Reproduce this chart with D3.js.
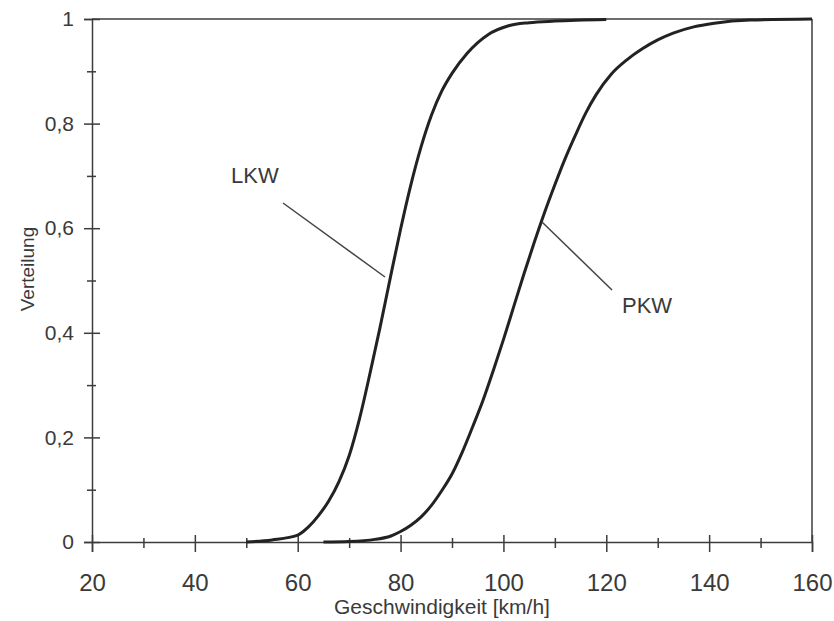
<!DOCTYPE html>
<html><head><meta charset="utf-8">
<script src="https://cdn.jsdelivr.net/npm/d3@7"></script>
<style>body{margin:0;background:#fff}svg{display:block}text{font-family:"Liberation Sans",Arial,sans-serif;fill:#3a3a3a}</style>
</head><body><svg id="c" width="834" height="621"></svg>
<script>
const lkwSpeed = [50,55,60,62,64,66,68,70,72,74,76,78,80,82,84,86,88,90,93,97,101,105,110,120];
const lkwShare = [0,0.004,0.013,0.028,0.05,0.078,0.115,0.165,0.235,0.32,0.41,0.505,0.598,0.683,0.756,0.816,0.862,0.896,0.935,0.97,0.987,0.993,0.996,0.999];
const pkwSpeed = [65,70,75,78,80,82,84,86,88,90,92,94,96,98,100,102,104,106,108,110,112,114,116,118,121,124,127,130,133,137,141,148,160];
const pkwShare = [0,0.001,0.005,0.011,0.02,0.032,0.048,0.07,0.098,0.13,0.172,0.22,0.27,0.327,0.387,0.45,0.513,0.573,0.63,0.683,0.733,0.778,0.82,0.855,0.895,0.922,0.943,0.96,0.973,0.985,0.992,0.998,1];
const xTicks = [20,40,60,80,100,120,140,160];
const xMinor = [30,50,70,90,110,130,150];
const yTicks = [0,0.2,0.4,0.6,0.8,1];
const yMinor = [0.1,0.3,0.5,0.7,0.9];
const xTitle = "Geschwindigkeit [km/h]";
const yTitle = "Verteilung";

const svg = d3.select("#c");
const L=92,R=812,T=19,B=542;
const x = d3.scaleLinear().domain([20,160]).range([L,R]);
const y = d3.scaleLinear().domain([0,1]).range([B,T]);
const fmt = d => d===0?"0":d===1?"1":String(d).replace(".",",");
const ink="#3c3c3c";

// frame top/right
svg.append("line").attr("x1",L).attr("x2",R).attr("y1",T).attr("y2",T).attr("stroke",ink).attr("stroke-width",1.5);
svg.append("line").attr("x1",R).attr("x2",R).attr("y1",T).attr("y2",B).attr("stroke",ink).attr("stroke-width",1.5);

// x axis
const gx = svg.append("g").attr("transform",`translate(0,${B})`)
  .call(d3.axisBottom(x).tickValues(xTicks).tickFormat(d=>d).tickSize(10).tickPadding(22));
gx.selectAll(".tick line").attr("y1",-7).attr("y2",10).attr("stroke",ink).attr("stroke-width",1.5);
gx.select(".domain").attr("stroke",ink).attr("stroke-width",1.5);
gx.selectAll(".tick text").attr("font-size",24).attr("fill","#333").style("font-family","Liberation Sans, Arial, sans-serif");
const gxm = svg.append("g").attr("transform",`translate(0,${B})`)
  .call(d3.axisBottom(x).tickValues(xMinor).tickFormat("").tickSize(6));
gxm.select(".domain").remove();
gxm.selectAll(".tick line").attr("y1",-4).attr("y2",6).attr("stroke",ink).attr("stroke-width",1.5);

// y axis
const gy = svg.append("g").attr("transform",`translate(${L},0)`)
  .call(d3.axisLeft(y).tickValues(yTicks).tickFormat(fmt).tickSize(8).tickPadding(10));
gy.selectAll(".tick line").attr("x1",-8).attr("x2",8).attr("stroke",ink).attr("stroke-width",1.5);
gy.select(".domain").attr("stroke",ink).attr("stroke-width",1.5);
gy.selectAll(".tick text").attr("font-size",21).attr("fill","#333").style("font-family","Liberation Sans, Arial, sans-serif");
const gym = svg.append("g").attr("transform",`translate(${L},0)`)
  .call(d3.axisLeft(y).tickValues(yMinor).tickFormat("").tickSize(5));
gym.select(".domain").remove();
gym.selectAll(".tick line").attr("x1",-5).attr("x2",4).attr("stroke",ink).attr("stroke-width",1.5);

// titles
svg.append("text").attr("x",442).attr("y",614).attr("text-anchor","middle").attr("font-size",21).text(xTitle);
svg.append("text").attr("transform","translate(34,269) rotate(-90)").attr("text-anchor","middle").attr("font-size",19).text(yTitle);

// curves
const line = d3.line().x(d=>x(d[0])).y(d=>y(d[1])).curve(d3.curveMonotoneX);
svg.append("path").datum(d3.zip(lkwSpeed,lkwShare)).attr("d",line).attr("fill","none").attr("stroke","#222").attr("stroke-width",3);
svg.append("path").datum(d3.zip(pkwSpeed,pkwShare)).attr("d",line).attr("fill","none").attr("stroke","#222").attr("stroke-width",3);

// labels with leader lines
svg.append("text").attr("x",231).attr("y",183).attr("font-size",22).text("LKW");
svg.append("line").attr("x1",283).attr("y1",203).attr("x2",385).attr("y2",277).attr("stroke","#444").attr("stroke-width",1.5);
svg.append("text").attr("x",622).attr("y",313).attr("font-size",22).text("PKW");
svg.append("line").attr("x1",612).attr("y1",290).attr("x2",542).attr("y2",222).attr("stroke","#444").attr("stroke-width",1.5);
</script></body></html>
